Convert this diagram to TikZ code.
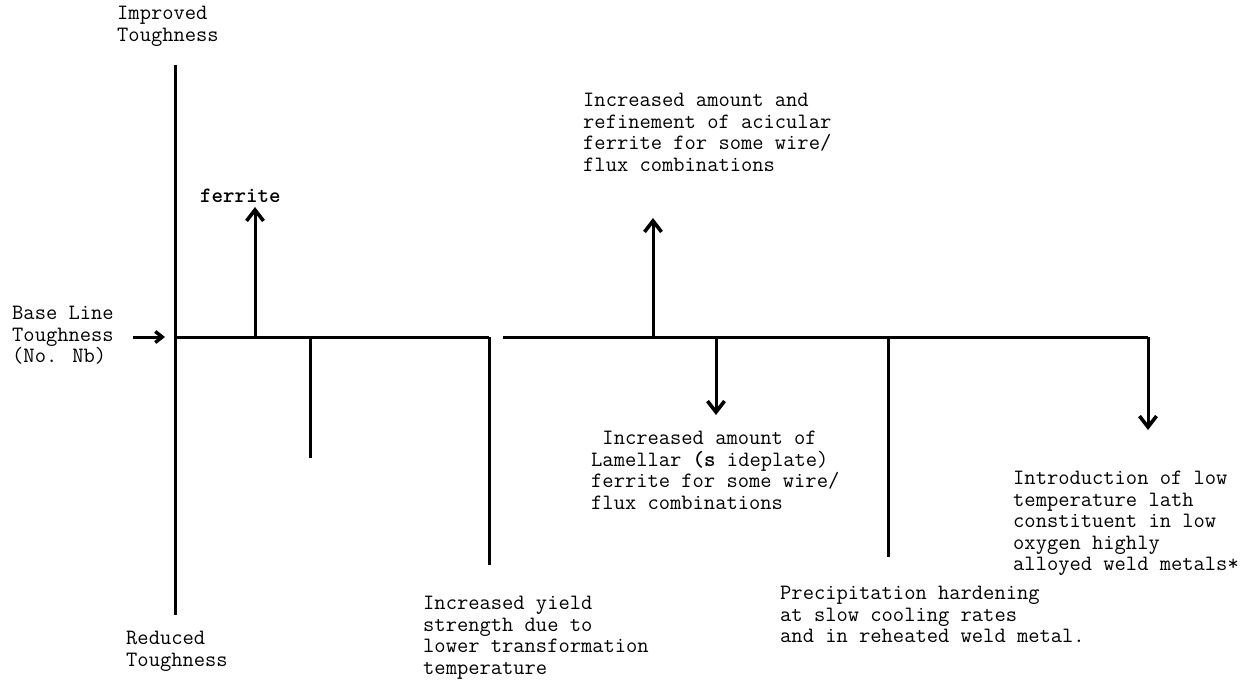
\documentclass[tikz,border=0pt]{standalone}
\usetikzlibrary{arrows.meta}
\begin{document}
\begin{tikzpicture}[x=1pt,y=-1pt,
  ax/.style={line width=3pt},
  up/.style={line width=3pt,-{Straight Barb[length=11pt,width=17pt,line width=3.6pt]}},
  lbl/.style={anchor=north west,inner sep=0pt,align=left,font=\ttfamily\fontsize{21.9}{21.5}\selectfont}]
\useasboundingbox (0,0) rectangle (1253,687);
% axis
\coordinate (atop) at (175,65);
\coordinate (abot) at (175,615);
\coordinate (o) at (175,337);
\draw[ax] (atop) -- (abot);
% base line
\coordinate (b1) at (489,337);
\coordinate (b2) at (503,337);
\coordinate (b3) at (1148,337);
\draw[ax] (o) -- (b1);
\draw[ax] (b2) -- (b3);
% labels
\node[lbl] (imp) at (117,6) {Improved\\Toughness};
\node[lbl] (red) at (126,631) {Reduced\\Toughness};
\node[lbl] (base) at (12,306) {Base Line\\Toughness\\ (No. Nb)};
\coordinate (barr) at (133,337);
\draw[line width=3pt,-{Straight Barb[length=7pt,width=11pt,line width=3.4pt]}] (barr) -- (165,337);
% ferrite
\node[lbl,font=\ttfamily\fontsize{21.9}{21.5}\selectfont\bfseries] (fer) at (200,189) {ferrite};
\coordinate (f0) at (255,337);
\draw[up] (f0) -- (255,207);
% line at 310
\coordinate (l1a) at (310,337);
\coordinate (l1b) at (310,458);
\draw[ax] (l1a) -- (l1b);
% line at 489
\coordinate (l2b) at (489,565);
\draw[ax] (b1) -- (l2b);
\node[lbl] (yield) at (423,596) {Increased yield\\strength due to\\lower transformation\\temperature};
% up arrow at 653
\coordinate (a3) at (653,337);
\draw[up] (a3) -- (653,218);
\node[lbl] (acic) at (583,93) {Increased amount and\\refinement of acicular\\ferrite for some wire/\\flux combinations};
% down arrow at 716
\coordinate (a4) at (716,337);
\draw[up] (a4) -- (716,415);
\node[lbl] (lam) at (591,431) {\ Increased amount of\\Lamellar {\bfseries(s} ideplate)\\ferrite for some wire/\\flux combinations};
% line at 888
\coordinate (l3a) at (888,337);
\coordinate (l3b) at (888,557);
\draw[ax] (l3a) -- (l3b);
\node[lbl] (prec) at (780,586) {Precipitation hardening\\at slow cooling rates\\and in reheated weld metal.};
% down arrow at 1148
\draw[up] (b3) -- (1148,430);
\node[lbl] (intro) at (1013,471) {Introduction of low\\temperature lath\\constituent in low\\oxygen highly\\alloyed weld metals*};
\end{tikzpicture}
\end{document}
